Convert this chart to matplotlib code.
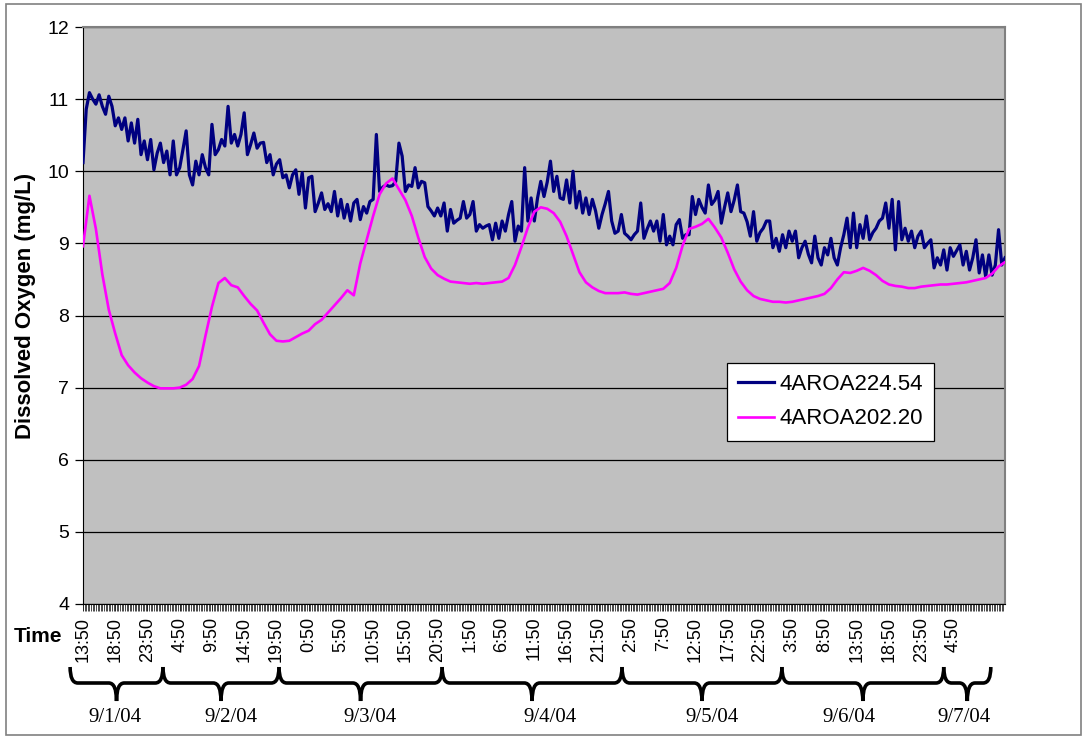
import numpy as np
import matplotlib
matplotlib.use("Agg")
import matplotlib.pyplot as plt
from matplotlib.path import Path
from matplotlib.patches import PathPatch, Rectangle
from matplotlib.transforms import blended_transform_factory

plt.rcParams['font.family'] = ['Liberation Sans', 'DejaVu Sans']

# 4AROA224.54, read every half hour from 9/1/04 13:50
do_224 = [
    10.12, 10.86, 11.09, 11.00, 10.93, 11.06, 10.90, 10.79, 11.04, 10.90,
    10.63, 10.74, 10.58, 10.74, 10.42, 10.67, 10.39, 10.72, 10.23, 10.42,
    10.16, 10.44, 10.02, 10.25, 10.39, 10.12, 10.28, 9.95, 10.42, 9.95,
    10.05, 10.30, 10.56, 9.95, 9.81, 10.14, 9.95, 10.23, 10.05, 9.95,
    10.65, 10.23, 10.30, 10.44, 10.35, 10.90, 10.39, 10.51, 10.35, 10.51,
    10.81, 10.23, 10.37, 10.53, 10.32, 10.39, 10.40, 10.12, 10.23, 9.95,
    10.10, 10.16, 9.91, 9.95, 9.77, 9.95, 10.02, 9.68, 9.98, 9.49,
    9.91, 9.93, 9.44, 9.56, 9.70, 9.47, 9.55, 9.44, 9.72, 9.38,
    9.61, 9.35, 9.54, 9.31, 9.56, 9.61, 9.33, 9.51, 9.42, 9.58,
    9.61, 10.51, 9.72, 9.78, 9.81, 9.79, 9.80, 9.86, 10.39, 10.21,
    9.72, 9.81, 9.79, 10.05, 9.77, 9.86, 9.84, 9.51, 9.45, 9.38,
    9.49, 9.38, 9.56, 9.17, 9.47, 9.28, 9.32, 9.35, 9.58, 9.35,
    9.40, 9.58, 9.17, 9.26, 9.21, 9.24, 9.26, 9.05, 9.28, 9.07,
    9.31, 9.17, 9.40, 9.58, 9.03, 9.24, 9.17, 10.05, 9.31, 9.63,
    9.31, 9.63, 9.86, 9.65, 9.85, 10.14, 9.72, 9.93, 9.63, 9.61,
    9.88, 9.56, 10.00, 9.49, 9.72, 9.42, 9.63, 9.40, 9.61, 9.45,
    9.21, 9.40, 9.55, 9.72, 9.31, 9.14, 9.17, 9.40, 9.14, 9.10,
    9.05, 9.12, 9.17, 9.56, 9.07, 9.20, 9.31, 9.17, 9.31, 9.03,
    9.40, 8.98, 9.10, 8.98, 9.26, 9.33, 9.07, 9.12, 9.12, 9.65,
    9.40, 9.61, 9.50, 9.42, 9.81, 9.54, 9.60, 9.72, 9.28, 9.50,
    9.70, 9.44, 9.60, 9.81, 9.44, 9.42, 9.30, 9.10, 9.44, 9.03,
    9.15, 9.21, 9.31, 9.31, 8.94, 9.07, 8.89, 9.12, 8.94, 9.17,
    9.03, 9.17, 8.80, 8.94, 9.03, 8.85, 8.73, 9.10, 8.80, 8.70,
    8.94, 8.84, 9.07, 8.80, 8.70, 8.94, 9.12, 9.35, 8.94, 9.42,
    8.94, 9.26, 9.07, 9.38, 9.05, 9.15, 9.21, 9.31, 9.35, 9.56,
    9.21, 9.61, 8.91, 9.58, 9.05, 9.21, 9.03, 9.17, 8.94, 9.10,
    9.17, 8.94, 9.00, 9.05, 8.66, 8.80, 8.70, 8.91, 8.63, 8.94,
    8.82, 8.90, 8.98, 8.70, 8.89, 8.63, 8.80, 9.05, 8.59, 8.84,
    8.54, 8.84, 8.56, 8.70, 9.19, 8.70, 8.80,
]

# 4AROA202.20, read every hour from 9/1/04 13:50
do_202 = [
    8.96, 9.66, 9.20, 8.57, 8.08, 7.75, 7.45, 7.31, 7.21, 7.13,
    7.07, 7.02, 6.99, 6.99, 6.99, 7.00, 7.04, 7.12, 7.30, 7.72,
    8.12, 8.45, 8.52, 8.42, 8.39, 8.27, 8.16, 8.07, 7.90, 7.74,
    7.65, 7.64, 7.65, 7.70, 7.75, 7.79, 7.88, 7.94, 8.04, 8.14,
    8.24, 8.35, 8.28, 8.72, 9.05, 9.38, 9.68, 9.83, 9.90, 9.75,
    9.60, 9.38, 9.08, 8.81, 8.65, 8.56, 8.51, 8.47, 8.46, 8.45,
    8.44, 8.45, 8.44, 8.45, 8.46, 8.47, 8.52, 8.70, 8.95, 9.22,
    9.44, 9.50, 9.48, 9.42, 9.30, 9.10, 8.85, 8.60, 8.46, 8.39,
    8.34, 8.31, 8.31, 8.31, 8.32, 8.30, 8.29, 8.31, 8.33, 8.35,
    8.37, 8.45, 8.66, 8.97, 9.20, 9.23, 9.27, 9.34, 9.22, 9.08,
    8.87, 8.64, 8.47, 8.35, 8.27, 8.23, 8.21, 8.19, 8.19, 8.18,
    8.19, 8.21, 8.23, 8.25, 8.27, 8.30, 8.38, 8.50, 8.60, 8.59,
    8.62, 8.66, 8.62, 8.56, 8.48, 8.43, 8.41, 8.40, 8.38, 8.38,
    8.40, 8.41, 8.42, 8.43, 8.43, 8.44, 8.45, 8.46, 8.48, 8.50,
    8.52, 8.58, 8.68, 8.74,
]

time_labels = ["13:50", "18:50", "23:50", "4:50", "9:50", "14:50", "19:50",
               "0:50", "5:50", "10:50", "15:50", "20:50", "1:50", "6:50",
               "11:50", "16:50", "21:50", "2:50", "7:50", "12:50", "17:50",
               "22:50", "3:50", "8:50", "13:50", "18:50", "23:50", "4:50"]
days = ["9/1/04", "9/2/04", "9/3/04", "9/4/04", "9/5/04", "9/6/04", "9/7/04"]
# brace ends and date label spots, in hours after 9/1 13:50
brace_ends = [-2.0, 12.4, 30.4, 55.7, 83.6, 108.4, 133.5, 140.8]
day_label_pos = [5.0, 22.9, 44.5, 72.4, 97.5, 118.8, 136.6]

t_224 = np.arange(len(do_224)) * 0.5
t_202 = np.arange(len(do_202)) * 1.0

fig = plt.figure(figsize=(10.85, 7.38), dpi=100)
ax = fig.add_axes([83 / 1085, 1 - 604 / 738, 922 / 1085, 577 / 738])
ax.set_facecolor('#c0c0c0')

ax.plot(t_224, do_224, color='#000080', lw=2.3, label='4AROA224.54', zorder=3)
ax.plot(t_202, do_202, color='#ff00ff', lw=1.9, label='4AROA202.20', zorder=3)

ax.set_xlim(0, 143)
ax.set_ylim(4, 12)
ax.set_yticks(range(4, 13))
ax.yaxis.grid(True, color='black', lw=0.9)
ax.set_axisbelow(True)
ax.tick_params(axis='y', labelsize=14, length=6, width=0.9, pad=4)

ax.set_xticks(np.arange(len(time_labels)) * 5)
ax.set_xticklabels(time_labels, rotation=90, fontsize=13)
ax.set_xticks(np.arange(0, 143, 0.25), minor=True)
ax.tick_params(axis='x', which='major', length=5, width=0.6, pad=4)
ax.tick_params(axis='x', which='minor', length=5, width=0.5)

for s in ['left', 'bottom']:
    ax.spines[s].set_color('black')
for s in ['top', 'right']:
    ax.spines[s].set_color('#808080')
    ax.spines[s].set_linewidth(1.5)

ax.set_ylabel('Dissolved Oxygen (mg/L)', fontsize=16, fontweight='bold')
ax.yaxis.set_label_coords(-0.051, 0.517)

leg = ax.legend(loc='upper left', bbox_to_anchor=(0.6985, 0.4177), fontsize=16,
                frameon=True, fancybox=False, edgecolor='black', framealpha=1,
                borderaxespad=0, handlelength=1.6, handletextpad=0.25,
                borderpad=0.5, labelspacing=0.6)
leg.get_frame().set_linewidth(0.9)

fig.text(38 / 1085, 1 - 637 / 738, 'Time', ha='center', va='center',
         fontsize=15, fontweight='bold')

# braces under the time labels grouping them by day
tr = blended_transform_factory(ax.transData, fig.transFigure)
top, mid, tip = 1 - 667 / 738, 1 - 683 / 738, 1 - 701 / 738
r = 1.2
for a, b in zip(brace_ends[:-1], brace_ends[1:]):
    c = (a + b) / 2
    verts = [(a, top), (a, mid), (a + r, mid), (c - r, mid), (c, mid), (c, tip),
             (c, mid), (c + r, mid), (b - r, mid), (b, mid), (b, top)]
    codes = [Path.MOVETO, Path.CURVE3, Path.CURVE3, Path.LINETO, Path.CURVE3,
             Path.CURVE3, Path.CURVE3, Path.CURVE3, Path.LINETO, Path.CURVE3,
             Path.CURVE3]
    fig.patches.append(PathPatch(Path(verts, codes), transform=tr, fill=False,
                                 lw=2.6, edgecolor='black', clip_on=False))

for d, xpos in zip(days, day_label_pos):
    ax.text(xpos, 1 - 717 / 738, d, transform=tr, ha='center', va='center',
            fontsize=15, family='Liberation Serif')

fig.patches.append(Rectangle((6 / 1085, 3 / 738), 1075 / 1085, 731 / 738,
                             transform=fig.transFigure, fill=False,
                             edgecolor='#808080', lw=1.2))

fig.savefig('out.png', dpi=100)
